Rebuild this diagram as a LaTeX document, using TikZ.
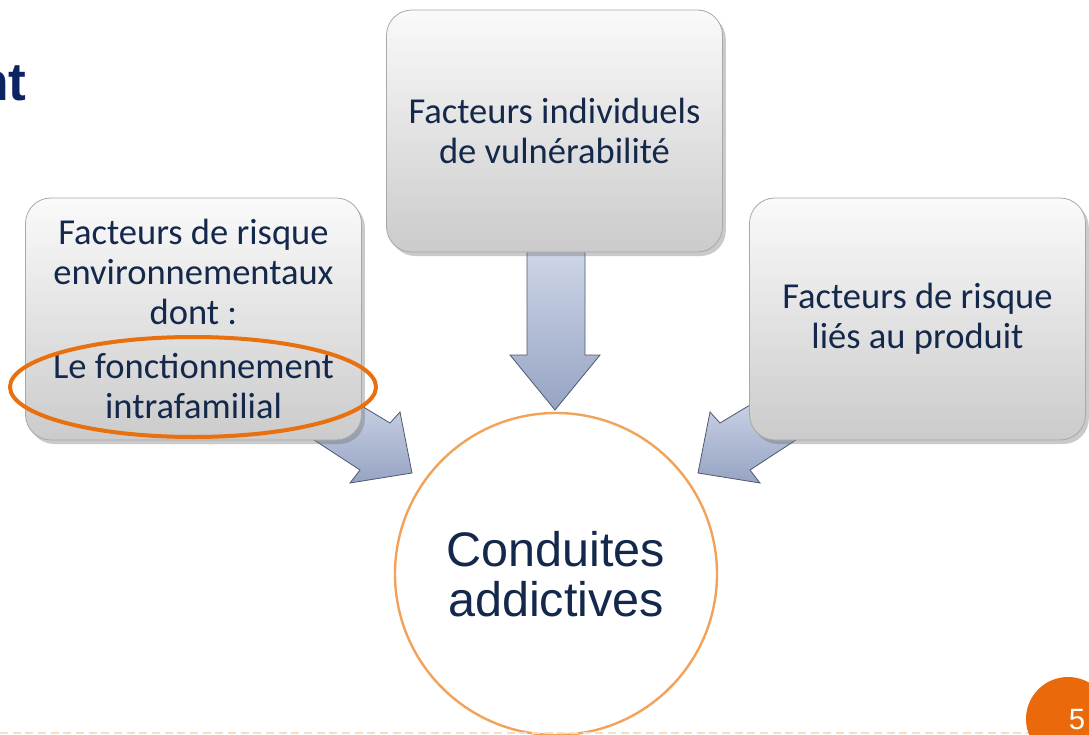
\documentclass[tikz,border=0pt]{standalone}
\usepackage{fontspec}
\setmainfont{Carlito}
\newfontfamily\arialf{Liberation Sans}
\usetikzlibrary{shapes.geometric,shadows}
\definecolor{navy}{HTML}{14284B}
\definecolor{titlenavy}{HTML}{0D2463}
\definecolor{hlorange}{HTML}{E8700F}
\definecolor{ringorange}{HTML}{F2A35A}
\definecolor{pgorange}{HTML}{EA6A0B}
\definecolor{dashorange}{HTML}{FBDDC2}
\definecolor{boxtop}{HTML}{FAFAFA}
\definecolor{boxbot}{HTML}{CBCBCB}
\definecolor{boxline}{HTML}{A8A8A8}
\definecolor{arrtop}{HTML}{D2D9EA}
\definecolor{arrbot}{HTML}{96A4C3}
\definecolor{arrline}{HTML}{4E5870}
\tikzset{
  factorbox/.style={rectangle, rounded corners=19pt, draw=boxline, line width=0.6pt,
    top color=boxtop, bottom color=boxbot, minimum width=252pt, minimum height=181.5pt,
    align=center, text=navy, font=\fontsize{27.4}{30}\selectfont,
    drop shadow={shadow xshift=2.5pt, shadow yshift=-3pt, opacity=0.35, fill=black!60}},
  bigarrow/.style={draw=arrline, line width=0.6pt, top color=arrtop, bottom color=arrbot, line join=miter},
  hlring/.style={ellipse, draw=hlorange, line width=3pt, minimum width=274.5pt, minimum height=75pt},
}
\begin{document}
\begin{tikzpicture}[x=0.75pt,y=-0.75pt]
\useasboundingbox (0,0) rectangle (1089,735);
\clip (0,0) rectangle (1089,735);
% title fragment
\node[anchor=base east, inner sep=0pt, text=titlenavy, font=\arialf\bfseries\fontsize{40}{48}\selectfont] (title) at (27,100) {nt};
% arrows (drawn under the boxes)
\draw[bigarrow] (527,240) -- (585,240) -- (585,355) -- (600,355) -- (555,410) -- (510,355) -- (527,355) -- cycle;
\draw[bigarrow] (330,387) -- (390,423) -- (400,412) -- (412,473) -- (350,483) -- (360,470) -- (285,421) -- cycle;
\draw[bigarrow] (780,387) -- (720,423) -- (710,412) -- (698,473) -- (760,483) -- (750,470) -- (825,421) -- cycle;
% boxes
\node[factorbox] (env) at (193.5,319) {Facteurs de risque\\environnementaux\\dont :\\[11pt]Le fonctionnement\\intrafamilial};
\node[factorbox] (ind) at (554.5,131) {Facteurs individuels\\de vuln\'erabilit\'e};
\node[factorbox] (prod) at (917.5,319) {Facteurs de risque\\li\'es au produit};
\node[hlring] (hl) at (193,387) {};
% centre circle
\node[circle, draw=ringorange, line width=1.8pt, fill=white, minimum size=241.5pt,
  align=center, text=navy, font=\arialf\fontsize{36.4}{37.5}\selectfont] (cond) at (556,574) {Conduites\\addictives};
% footer
\coordinate (dl) at (0,733);
\coordinate (dr) at (1028,733);
\draw[dashorange, line width=1.2pt, dash pattern=on 6pt off 3.5pt] (dl) -- (dr);
\node[circle, fill=pgorange, minimum size=63pt, inner sep=0pt] (pg) at (1068,719) {};
\node[text=white, font=\arialf\fontsize{22}{26}\selectfont, inner sep=0pt] (pgnum) at (1077,720) {5};
\end{tikzpicture}
\end{document}
